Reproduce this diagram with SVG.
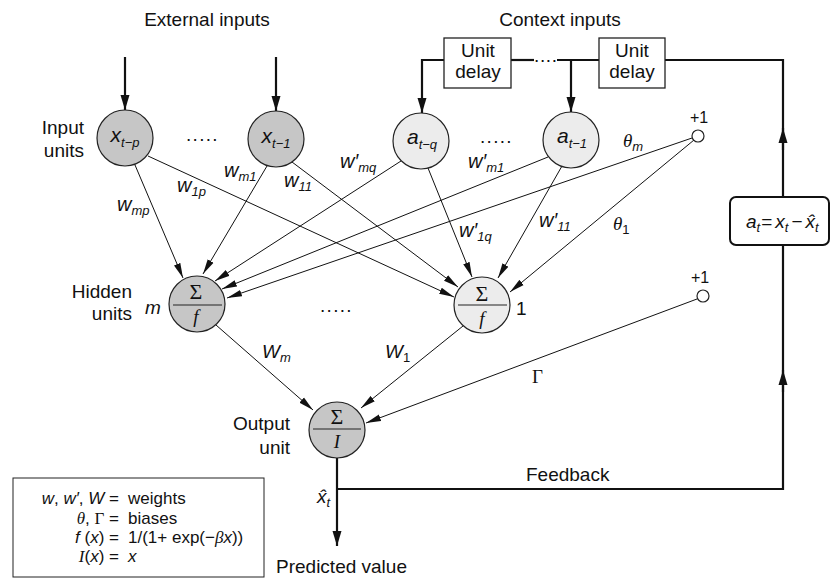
<svg xmlns="http://www.w3.org/2000/svg" width="832" height="583" viewBox="0 0 832 583">
<style>
text{font-family:"Liberation Sans",Arial,sans-serif;font-size:19px;fill:#111}
.it{font-style:italic}
.sr{font-family:"Liberation Serif","Times New Roman",serif}
.sb{font-size:13px}
.lg{font-size:17px}
.bias{font-size:16px}
.sig{font-family:"Liberation Serif","Times New Roman",serif;font-size:22px}
.dark{fill:#c6c6c6;stroke:#222;stroke-width:1.2}
.light{fill:#ececec;stroke:#222;stroke-width:1.2}
.small{fill:#fff;stroke:#222;stroke-width:1.2}
.frac{stroke:#222;stroke-width:1}
.c{fill:none;stroke:#111;stroke-width:1;marker-end:url(#ah)}
.th{fill:none;stroke:#111;stroke-width:2.2}
.tha{fill:none;stroke:#111;stroke-width:2.2;marker-end:url(#ahb)}
.box{fill:#fff;stroke:#222;stroke-width:1.3}
</style>
<defs>
<marker id="ah" markerUnits="userSpaceOnUse" markerWidth="16" markerHeight="8" refX="15" refY="4" orient="auto" viewBox="0 0 16 8"><path d="M0,0.6 L15,4 L0,7.4 z" fill="#111"/></marker>
<marker id="ahb" markerUnits="userSpaceOnUse" markerWidth="16" markerHeight="10" refX="15" refY="5" orient="auto" viewBox="0 0 16 10"><path d="M0,0.5 L15,5 L0,9.5 z" fill="#111"/></marker>
</defs>
<rect width="832" height="583" fill="#fff"/>

<g id="titles">
<text x="207" y="26" text-anchor="middle">External inputs</text>
<text x="560" y="26" text-anchor="middle">Context inputs</text>
<text x="84" y="134" text-anchor="end">Input</text>
<text x="84" y="157" text-anchor="end">units</text>
<text x="132" y="298" text-anchor="end">Hidden</text>
<text x="132" y="320" text-anchor="end">units</text>
<text x="290" y="430" text-anchor="end">Output</text>
<text x="290" y="454" text-anchor="end">unit</text>
<text x="276" y="573">Predicted value</text>
<text x="526" y="481">Feedback</text>
<text x="186" y="141" letter-spacing="1.3">.....</text>
<text x="480" y="143" letter-spacing="1.3">.....</text>
<text x="320" y="312" letter-spacing="1.3">.....</text>
</g>

<g id="connectors">
<path class="tha" d="M125,57 V110"/>
<path class="tha" d="M276,57 V111"/>
<path class="tha" d="M444,60 H422 V113"/>
<path class="th" d="M511,60 H534"/>
<text x="534" y="62" letter-spacing="0.6">....</text>
<path class="th" d="M557,60 H599"/>
<path class="tha" d="M571,60 V112"/>
<path class="th" d="M665,60 H783 V489 H337"/>
<path class="tha" d="M783,392 V370"/>
<path class="tha" d="M783,150 V128"/>
<path class="tha" d="M337,458 V546"/>
<path class="c" d="M135,165 L183,278"/>
<path class="c" d="M267,166 L203,274"/>
<path class="c" d="M401,161 L215,281"/>
<path class="c" d="M548,157 L222,289"/>
<path class="c" d="M692,138 L227,298"/>
<path class="c" d="M148,156 L454,297"/>
<path class="c" d="M292,162 L458,287"/>
<path class="c" d="M428,168 L472,277"/>
<path class="c" d="M562,166 L498,278"/>
<path class="c" d="M694,140 L510,292"/>
<path class="c" d="M216,325 L313,410"/>
<path class="c" d="M463,326 L361,408"/>
<path class="c" d="M697,299 L366,423"/>
</g>

<g id="weight-labels">
<text x="117" y="211"><tspan class="it" font-size="20">w</tspan><tspan class="it sb" dy="4">mp</tspan></text>
<text x="177" y="192"><tspan class="it" font-size="20">w</tspan><tspan class="it sb" dy="4">1p</tspan></text>
<text x="224" y="177"><tspan class="it" font-size="20">w</tspan><tspan class="it sb" dy="4">m1</tspan></text>
<text x="284" y="187"><tspan class="it" font-size="20">w</tspan><tspan class="it sb" dy="4">11</tspan></text>
<text x="340" y="168"><tspan class="it" font-size="20">w′</tspan><tspan class="it sb" dy="4">mq</tspan></text>
<text x="468" y="168"><tspan class="it" font-size="20">w′</tspan><tspan class="it sb" dy="4">m1</tspan></text>
<text x="459" y="237"><tspan class="it" font-size="20">w′</tspan><tspan class="it sb" dy="4">1q</tspan></text>
<text x="539" y="227"><tspan class="it" font-size="20">w′</tspan><tspan class="it sb" dy="4">11</tspan></text>
<text x="623" y="147"><tspan class="it sr" font-size="19">θ</tspan><tspan class="it sb" dy="4">m</tspan></text>
<text x="613" y="230"><tspan class="it sr" font-size="19">θ</tspan><tspan class="sb" dy="4">1</tspan></text>
<text x="262" y="358"><tspan class="it">W</tspan><tspan class="it sb" dy="4">m</tspan></text>
<text x="385" y="358"><tspan class="it">W</tspan><tspan class="sb" dy="4">1</tspan></text>
<text x="532" y="383" class="sr" font-size="18">Γ</text>
<text x="317" y="503"><tspan class="it">x̂</tspan><tspan class="it sb" dy="4">t</tspan></text>
</g>

<g id="node-x-tp">
<circle class="dark" cx="125" cy="138" r="28"/>
<text x="125" y="142" text-anchor="middle"><tspan class="it" font-size="21">x</tspan><tspan class="it sb" dy="5">t−p</tspan></text>
</g>
<g id="node-x-t1">
<circle class="dark" cx="276" cy="139" r="28"/>
<text x="276" y="143" text-anchor="middle"><tspan class="it" font-size="21">x</tspan><tspan class="it sb" dy="5">t−1</tspan></text>
</g>
<g id="node-a-tq">
<circle class="light" cx="421" cy="141" r="28"/>
<text x="422" y="144" text-anchor="middle"><tspan class="it" font-size="21">a</tspan><tspan class="it sb" dy="5">t−q</tspan></text>
</g>
<g id="node-a-t1">
<circle class="light" cx="571" cy="140" r="28"/>
<text x="572" y="143" text-anchor="middle"><tspan class="it" font-size="21">a</tspan><tspan class="it sb" dy="5">t−1</tspan></text>
</g>
<g id="node-bias-hidden">
<circle class="small" cx="698" cy="136" r="6"/>
<text class="bias" x="699" y="123" text-anchor="middle">+1</text>
</g>
<g id="node-hidden-m">
<circle class="dark" cx="197" cy="304" r="28"/>
<line class="frac" x1="173" y1="305" x2="222" y2="305"/>
<text class="sig" x="196" y="299" text-anchor="middle">Σ</text>
<text class="sr it" x="196" y="323" text-anchor="middle">f</text>
<text class="it" x="145" y="314">m</text>
</g>
<g id="node-hidden-1">
<circle class="light" cx="482" cy="305" r="28"/>
<line class="frac" x1="458" y1="305" x2="507" y2="305"/>
<text class="sig" x="482" y="301" text-anchor="middle">Σ</text>
<text class="sr it" x="482" y="325" text-anchor="middle">f</text>
<text x="516" y="315">1</text>
</g>
<g id="node-bias-output">
<circle class="small" cx="703" cy="296" r="6"/>
<text class="bias" x="700" y="283" text-anchor="middle">+1</text>
</g>
<g id="node-output">
<circle class="dark" cx="337" cy="430" r="28"/>
<line class="frac" x1="313" y1="429" x2="361" y2="429"/>
<text class="sig" x="337" y="424" text-anchor="middle">Σ</text>
<text class="sr it" x="337" y="448" text-anchor="middle">I</text>
</g>
<g id="node-delay-1">
<rect class="box" x="444" y="38" width="67" height="50"/>
<text x="478" y="57" text-anchor="middle">Unit</text>
<text x="478" y="78" text-anchor="middle">delay</text>
</g>
<g id="node-delay-2">
<rect class="box" x="599" y="38" width="66" height="50"/>
<text x="632" y="57" text-anchor="middle">Unit</text>
<text x="632" y="78" text-anchor="middle">delay</text>
</g>
<g id="node-error">
<rect x="730" y="197" width="99" height="48" rx="6" fill="#fff" stroke="#111" stroke-width="2"/>
<text x="746" y="228"><tspan class="it">a</tspan><tspan class="it sb" dy="4">t</tspan><tspan dy="-4" dx="1">=</tspan><tspan class="it" dx="3">x</tspan><tspan class="it sb" dy="4">t</tspan><tspan dy="-4" dx="3">−</tspan><tspan class="it" dx="3">x̂</tspan><tspan class="it sb" dy="4">t</tspan></text>
</g>
<g id="legend">
<rect x="13" y="478" width="251" height="99" fill="#fff" stroke="#222" stroke-width="1"/>
<text class="lg" x="119" y="504" text-anchor="end"><tspan class="it">w</tspan>, <tspan class="it">w′</tspan>, <tspan class="it">W</tspan> =</text>
<text class="lg" x="128" y="504">weights</text>
<text class="lg" x="119" y="524" text-anchor="end"><tspan class="it sr">θ</tspan>, <tspan class="sr">Γ</tspan> =</text>
<text class="lg" x="128" y="524">biases</text>
<text class="lg" x="119" y="543" text-anchor="end"><tspan class="it">f</tspan> (<tspan class="it">x</tspan>) =</text>
<text class="lg" x="128" y="543">1/(1+ exp(−<tspan class="it sr">β</tspan><tspan class="it">x</tspan>))</text>
<text class="lg" x="119" y="562" text-anchor="end"><tspan class="it sr">I</tspan>(<tspan class="it">x</tspan>) =</text>
<text class="lg it" x="128" y="562">x</text>
</g>
</svg>
